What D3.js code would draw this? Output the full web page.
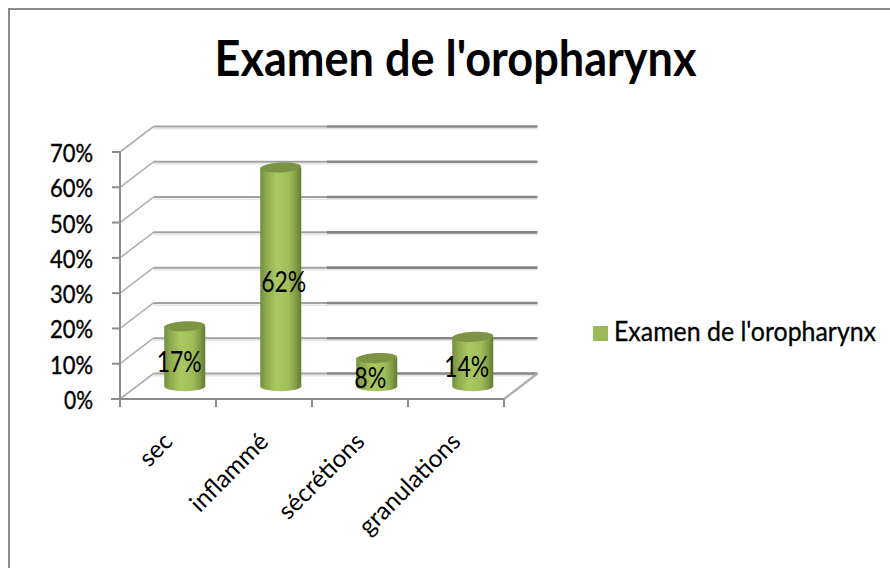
<!DOCTYPE html>
<html><head><meta charset="utf-8">
<script src="https://cdn.jsdelivr.net/npm/d3@7"></script>
<style>html,body{margin:0;padding:0;background:#fff}svg{display:block}text{font-family:Lato,"Open Sans",sans-serif;fill:#000}</style>
</head><body><div id="c"></div>
<script>
const titleText = "Examen de l'oropharynx";
const categories = ["sec","inflammé","sécrétions","granulations"];
const values = [0.17,0.62,0.08,0.14];
const labels = ["17%","62%","8%","14%"];
const yTicks = [0,0.1,0.2,0.3,0.4,0.5,0.6,0.7];
const W=890,H=568;
const x0=120,x1=504,y0=399,y1=152,dx=33.5,dy=-25.5,bw=41,ry=5;
const svg=d3.select("#c").append("svg").attr("width",W).attr("height",H);
const x=d3.scaleBand().domain(categories).range([x0,x1]);
const y=d3.scaleLinear().domain([0,0.7]).range([y0,y1]);
const defs=svg.append("defs");
const g=defs.append("linearGradient").attr("id","cyl");
[[0,"#728c3c"],[0.12,"#8aa64c"],[0.4,"#a9c961"],[0.7,"#9fbe5a"],[0.88,"#7f9a44"],[1,"#637c33"]]
 .forEach(([o,c])=>g.append("stop").attr("offset",o).attr("stop-color",c));
svg.append("rect").attr("width",W).attr("height",H).attr("fill","#fff");
// frame
svg.append("path").attr("d",`M9,${H}V9H${W}`).attr("fill","none").attr("stroke","#8c8c8c").attr("stroke-width",2);
svg.append("text").attr("x",455.5).attr("y",76).attr("text-anchor","middle").attr("font-size",50).attr("font-weight",700).attr("textLength",482).attr("lengthAdjust","spacingAndGlyphs").text(titleText);
// grid
const grid=svg.append("g");
yTicks.forEach(t=>{
  const yy=y(t);
  grid.append("path").attr("d",`M${x0},${yy}L${x0+dx},${yy+dy}`).attr("fill","none").attr("stroke","#b0b0b0").attr("stroke-width",1.6);
  grid.append("line").attr("x1",x0+dx).attr("x2",x1+dx).attr("y1",yy+dy+2.2).attr("y2",yy+dy+2.2).attr("stroke","#e6e6e6").attr("stroke-width",1.5);
  grid.append("line").attr("x1",x0+dx).attr("x2",327).attr("y1",yy+dy).attr("y2",yy+dy).attr("stroke","#a2a2a2").attr("stroke-width",2);
  grid.append("line").attr("x1",327).attr("x2",x1+dx).attr("y1",yy+dy).attr("y2",yy+dy).attr("stroke","#858585").attr("stroke-width",2.6);
});
// floor right edge
grid.append("path").attr("d",`M${x1},${y0}L${x1+dx},${y0+dy}`).attr("fill","none").attr("stroke","#b0b0b0").attr("stroke-width",2.4);
// axes
const ax=svg.append("g").attr("stroke","#8c8c8c").attr("stroke-width",2);
ax.append("line").attr("x1",x0).attr("x2",x0).attr("y1",y1).attr("y2",y0+8);
ax.append("line").attr("x1",x0-9).attr("x2",x1).attr("y1",y0).attr("y2",y0);
yTicks.forEach(t=>ax.append("line").attr("x1",x0-8).attr("x2",x0).attr("y1",y(t)).attr("y2",y(t)));
categories.concat(["end"]).forEach((c,i)=>{const xx=i<4?x(c):x1;ax.append("line").attr("x1",xx).attr("x2",xx).attr("y1",y0).attr("y2",y0+8);});
// y labels
svg.append("g").selectAll("text").data(yTicks).join("text")
 .attr("x",93).attr("y",d=>y(d)+10).attr("text-anchor","end").attr("font-size",25)
 .attr("stroke","#000").attr("stroke-width",0.4)
 .attr("textLength",d=>d===0?29:43).attr("lengthAdjust","spacingAndGlyphs")
 .text(d=>Math.round(d*100)+"%");
// x labels
svg.append("g").selectAll("text").data(categories).join("text")
 .attr("text-anchor","end").attr("font-size",24.5)
 .attr("transform",d=>`translate(${x(d)+x.bandwidth()/2+6},${y0+44}) rotate(-45)`)
 .text(d=>d);
// cylinders
const bars=svg.append("g").selectAll("g").data(categories).join("g");
bars.each(function(c,i){
  const s=d3.select(this),cx=x(c)+x.bandwidth()/2+dx/2,base=y0+dy/2,top=y(values[i])+dy/2,r=bw/2;
  s.append("path").attr("d",`M${cx-r},${top}V${base}A${r},${ry} 0 0 0 ${cx+r},${base}V${top}Z`).attr("fill","url(#cyl)");
  s.append("ellipse").attr("cx",cx).attr("cy",top).attr("rx",r).attr("ry",ry).attr("transform",`rotate(-3 ${cx} ${top})`).attr("fill","#7c9444");
});
// data labels
const labelDx=[-5.5,3,-6.5,-6];
const labelDy=[12,11,12,11];
svg.append("g").selectAll("text").data(categories).join("text")
 .attr("x",(c,i)=>x(c)+x.bandwidth()/2+dx/2+labelDx[i])
 .attr("y",(c,i)=>(y(values[i])+y0+dy)/2+9+labelDy[i]-5)
 .attr("text-anchor","middle").attr("font-size",28)
 .attr("textLength",(c,i)=>labels[i].length===2?32:45).attr("lengthAdjust","spacingAndGlyphs")
 .text((c,i)=>labels[i]);
// legend
svg.append("rect").attr("x",593).attr("y",326).attr("width",15).attr("height",15).attr("fill","#9bbb59");
svg.append("text").attr("x",614).attr("y",341).attr("font-size",26).attr("stroke","#000").attr("stroke-width",0.3).attr("textLength",262).attr("lengthAdjust","spacingAndGlyphs").text(titleText);
</script></body></html>
